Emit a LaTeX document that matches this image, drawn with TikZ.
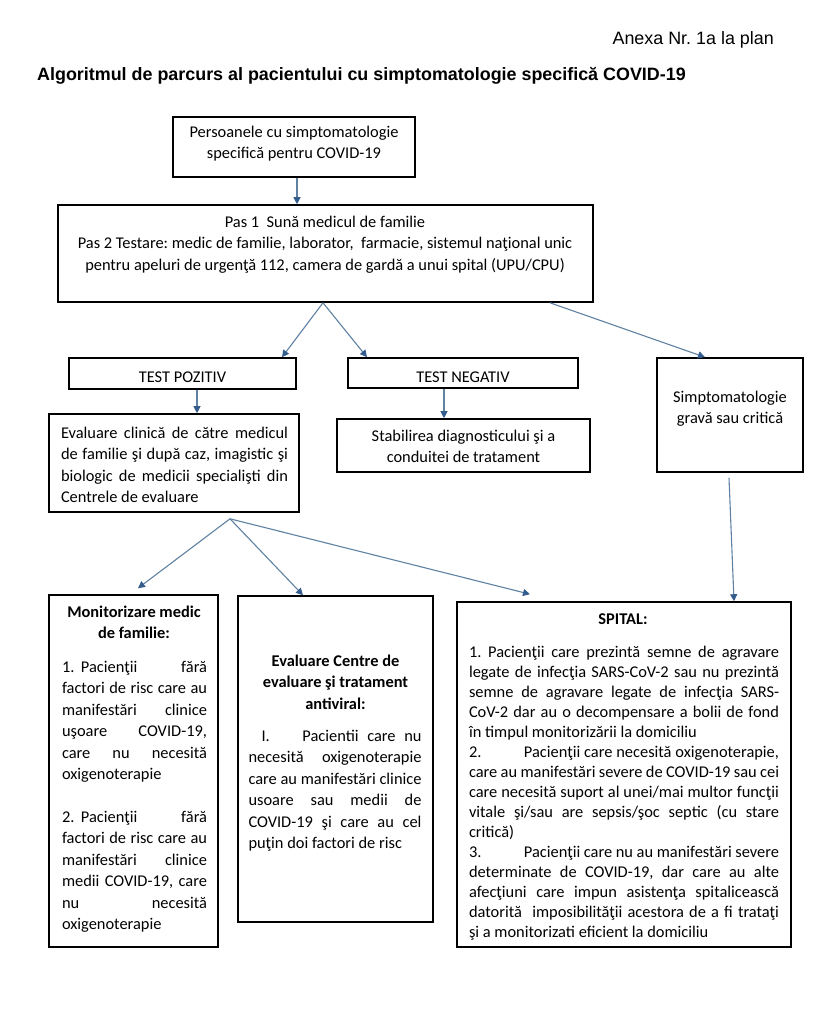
\documentclass[tikz,border=0pt]{standalone}
\usepackage{fontspec}
\setmainfont{Carlito}
\newfontfamily\arialf{Liberation Sans}
\usetikzlibrary{arrows.meta,calc}
\definecolor{arrowc}{RGB}{96,130,162}
\definecolor{headc}{RGB}{52,92,140}
\frenchspacing
\newcommand\calf{\fontsize{16.4}{21.5}\selectfont}
\newcommand\calfs{\fontsize{16.4}{20}\selectfont}
\newcommand\fs{\rule{0pt}{15pt}}
\newcommand\jus{\parindent=0pt\tolerance=10000\pretolerance=-1\hyphenpenalty=10000\exhyphenpenalty=10000\hbadness=10000\hfuzz=8pt}
\tikzset{
  box/.style={draw=black, line width=1.6pt, rectangle, inner sep=0pt},
  txt/.style={inner sep=0pt, outer sep=0pt, font=\calf},
  jtxt/.style={txt, text width=#1, align=justify, anchor=north west},
  ctxt/.style={txt, align=center, anchor=north},
  arr/.style={draw=arrowc, line width=1.1pt, -{Triangle[length=7pt,width=7pt,color=headc]}},
}
\begin{document}
\begin{tikzpicture}[x=1pt,y=-1pt]
\fill[white] (0,0) rectangle (837,1020);
\useasboundingbox (0,0) rectangle (837,1020);

% header
\node[inner sep=0pt, anchor=base east, font=\arialf\fontsize{17.9}{20}\selectfont] (anexa) at (774,44) {Anexa Nr. 1a la plan};
\node[inner sep=0pt, anchor=base west, font=\arialf\bfseries\fontsize{17.9}{20}\selectfont] (title) at (37,80) {Algoritmul de parcurs al pacientului cu simptomatologie specifică COVID-19};

% boxes
\node[box, minimum width=242pt, minimum height=60pt] (b1) at (294,147) {};
\node[box, minimum width=535pt, minimum height=97pt] (b2) at (325.5,253.5) {};
\node[box, minimum width=227pt, minimum height=31pt] (tp) at (182.5,373.5) {};
\node[box, minimum width=230pt, minimum height=30pt] (tn) at (463,373) {};
\node[box, minimum width=146pt, minimum height=114pt] (sg) at (730,415) {};
\node[box, minimum width=250pt, minimum height=98pt] (ev) at (174,463) {};
\node[box, minimum width=253pt, minimum height=53pt] (st) at (463.5,445.5) {};
\node[box, minimum width=169pt, minimum height=352pt] (mo) at (133.5,771) {};
\node[box, minimum width=195pt, minimum height=326pt] (ec) at (335.5,759) {};
\node[box, minimum width=334pt, minimum height=345pt] (sp) at (624,774.5) {};

% texts
\node[ctxt] (b1t) at (294,122) {\fs Persoanele cu simptomatologie\\specifică pentru COVID-19};
\node[ctxt] (b2t) at (325,212) {\fs Pas 1~ Sună medicul de familie\\Pas 2 Testare: medic de familie, laborator,~ farmacie, sistemul naţional unic\\pentru apeluri de urgenţă 112, camera de gardă a unui spital (UPU/CPU)};
\node[txt, anchor=base] (tpt) at (182.5,382) {TEST POZITIV};
\node[txt, anchor=base] (tnt) at (463,382) {TEST NEGATIV};
\node[ctxt] (sgt) at (730,387) {\fs Simptomatologie\\gravă sau critică};
\node[jtxt=227pt] (evt) at (61,423) {\jus\fs Evaluare clinică de către medicul\linebreak de familie şi după caz, imagistic şi\linebreak biologic de medicii specialişti din\linebreak Centrele de evaluare};
\node[ctxt] (stt) at (463.5,426) {\fs Stabilirea diagnosticului şi a\\conduitei de tratament};

\node[ctxt, font=\calf\bfseries] (moh) at (134,602) {\fs Monitorizare medic\\de familie:};
\node[jtxt=145pt] (mo1) at (62,657) {\jus\fs\makebox[19pt][l]{1.}Pacienţii fără\linebreak factori de risc care au\linebreak manifestări clinice\linebreak uşoare COVID-19,\linebreak care nu necesită\linebreak oxigenoterapie};
\node[jtxt=145pt] (mo2) at (62,807) {\jus\fs\makebox[19pt][l]{2.}Pacienţii fără\linebreak factori de risc care au\linebreak manifestări clinice\linebreak medii COVID-19, care\linebreak nu necesită\linebreak oxigenoterapie};

\node[ctxt, font=\calf\bfseries] (ech) at (335.5,651) {\fs Evaluare Centre de\\evaluare şi tratament\\antiviral:};
\node[jtxt=173pt] (ecb) at (248.5,726) {\jus\fs\hspace*{13pt}\makebox[41pt][l]{I.}Pacientii care nu\linebreak necesită oxigenoterapie\linebreak care au manifestări clinice\linebreak usoare sau medii de\linebreak COVID-19 şi care au cel\linebreak puţin doi factori de risc};

\node[ctxt, font=\calf\bfseries] (sph) at (623,609) {\fs SPITAL:};
\node[jtxt=310pt, font=\calfs] (spb) at (469,642) {\jus\fs 1. Pacienţii care prezintă semne de agravare\linebreak legate de infecţia SARS-CoV-2 sau nu prezintă\linebreak semne de agravare legate de infecţia SARS-\linebreak CoV-2 dar au o decompensare a bolii de fond\linebreak în timpul monitorizării la domiciliu\newline
\makebox[55pt][l]{2.}Pacienţii care necesită oxigenoterapie,\linebreak care au manifestări severe de COVID-19 sau cei\linebreak care necesită suport al unei/mai multor funcţii\linebreak vitale şi/sau are sepsis/şoc septic (cu stare\linebreak critică)\newline
\makebox[55pt][l]{3.}Pacienţii care nu au manifestări severe\linebreak determinate de COVID-19, dar care au alte\linebreak afecţiuni care impun asistenţa spitalicească\linebreak datorită~ imposibilităţii acestora de a fi trataţi\linebreak şi a monitorizati eficient la domiciliu};

% connectors
\draw[arr] ([xshift=3pt]b1.south) -- ([xshift=3pt]b1.south |- b2.north);
\coordinate (b2o) at ([xshift=-2.5pt]b2.south);
\draw[arr] (b2o) -- ([xshift=99.5pt]tp.north);
\draw[arr] (b2o) -- ([xshift=-96pt]tn.north);
\draw[arr] ([xshift=224.5pt]b2.south) -- ([xshift=-25pt]sg.north);
\draw[arr] ([xshift=14.5pt]tp.south) -- ([xshift=14.5pt]tp.south |- ev.north);
\draw[arr] ([xshift=-19pt]tn.south) -- ([xshift=-19pt]tn.south |- st.north);
\coordinate (evo) at ([xshift=56pt,yshift=-6pt]ev.south);
\draw[arr] (evo) -- ([xshift=4.5pt,yshift=6pt]mo.north);
\draw[arr] (evo) -- ([xshift=-32.5pt]ec.north);
\draw[arr] (evo) -- ([xshift=-94pt,yshift=7pt]sp.north);
\draw[arr] ([xshift=-1pt,yshift=-5pt]sg.south) -- ([xshift=110pt]sp.north);
\end{tikzpicture}
\end{document}
